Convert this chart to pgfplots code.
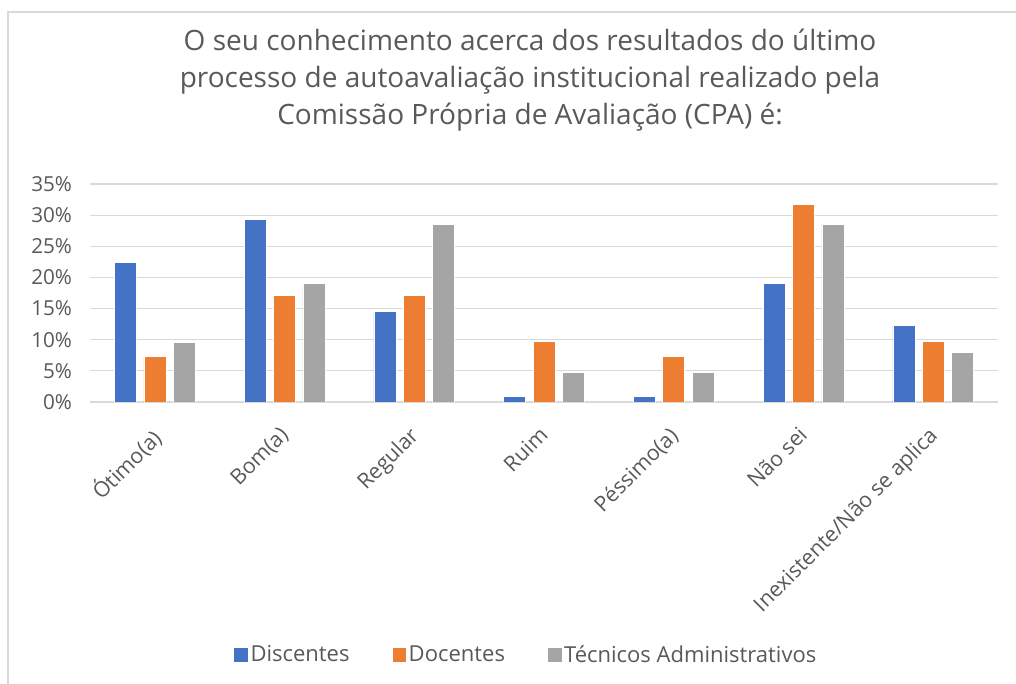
\documentclass[border=0pt]{standalone}
\usepackage{pgfplots}
\pgfplotsset{compat=1.18}
\usepackage{fontspec}
\setmainfont{Open Sans}
\definecolor{cblue}{HTML}{4472C4}
\definecolor{corange}{HTML}{ED7D31}
\definecolor{cgray}{HTML}{A5A5A5}
\definecolor{ctext}{HTML}{595959}
\definecolor{cgrid}{HTML}{D9D9D9}
\begin{document}
\begin{tikzpicture}
\useasboundingbox (0,0) rectangle (762pt,513pt);
\draw[cgrid, line width=1pt] (6pt,-5pt) -- (6pt,504pt) -- (770pt,504pt);
\begin{axis}[
  at={(67.5pt,211.5pt)}, anchor=south west,
  scale only axis, width=681pt, height=163.5pt,
  ybar=5.5pt, bar width=16.5pt,
  xmin=-0.5, xmax=6.5, ymin=0, ymax=35,
  xtick=data,
  xticklabels={Ótimo(a),Bom(a),Regular,Ruim,Péssimo(a),Não sei,Inexistente/Não se aplica},
  x tick label style={xshift=-4.5pt, yshift=-16pt, rotate=45, anchor=north east, font=\fontsize{16pt}{18pt}\selectfont, text=ctext, inner sep=1pt},
  ytick={0,5,...,35},
  yticklabel={\pgfmathprintnumber{\tick}\%},
  /pgf/number format/assume math mode=true,
  y tick label style={font=\fontsize{15.5pt}{18pt}\selectfont, text=ctext, xshift=-10pt},
  ymajorgrids, grid style={cgrid, line width=0.8pt},
  axis lines*=left,
  y axis line style={draw=none},
  x axis line style={draw=cgrid, line width=0.8pt, -},
  ytick style={draw=none}, xtick style={draw=none},
  major tick length=0pt,
  title={O seu conhecimento acerca dos resultados do último\\processo de autoavaliação institucional realizado pela\\Comissão Própria de Avaliação (CPA) é:},
  title style={at={(axis description cs:0.4846,1.44)}, anchor=center, align=center, font=\fontsize{21pt}{27.5pt}\selectfont, text=ctext},
  legend columns=3,
  legend style={at={(axis description cs:0.480,-1.16)}, anchor=center, draw=none, font=\fontsize{16.5pt}{18pt}\selectfont, text=ctext, nodes={inner sep=1.5pt}, /tikz/every even column/.append style={column sep=30pt}},
  legend image code/.code={\fill[#1] (0pt,-5.5pt) rectangle (11pt,5.5pt);},
]
\addplot[fill=cblue, draw=white, line width=0.4pt] coordinates {(0,22.4) (1,29.3) (2,14.6) (3,0.9) (4,0.9) (5,19.1) (6,12.3)};
\addplot[fill=corange, draw=white, line width=0.4pt] coordinates {(0,7.32) (1,17.07) (2,17.07) (3,9.76) (4,7.32) (5,31.71) (6,9.76)};
\addplot[fill=cgray, draw=white, line width=0.4pt] coordinates {(0,9.52) (1,19.05) (2,28.57) (3,4.76) (4,4.76) (5,28.57) (6,7.94)};
\legend{Discentes,Docentes,Técnicos Administrativos}
\end{axis}
\end{tikzpicture}
\end{document}
